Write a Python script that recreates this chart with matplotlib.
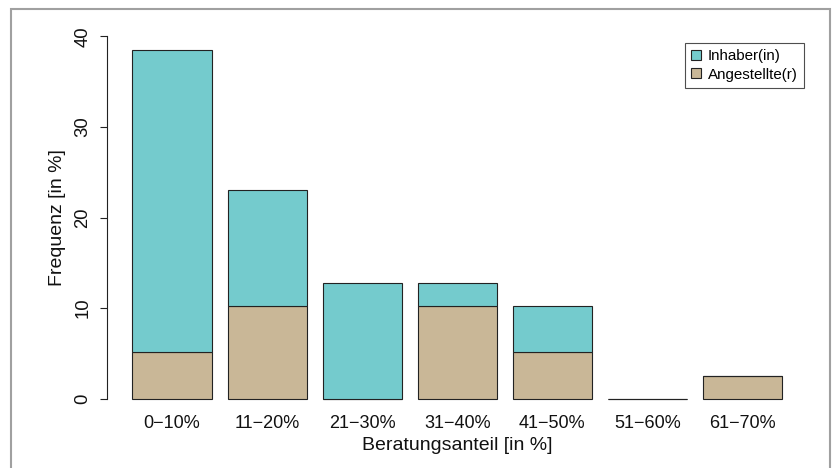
import matplotlib
matplotlib.use("Agg")
import matplotlib.pyplot as plt
from matplotlib.patches import Rectangle, Patch

plt.rcParams['font.family'] = ['Liberation Sans', 'DejaVu Sans']

categories = ["0\u221210%", "11\u221220%", "21\u221230%", "31\u221240%", "41\u221250%", "51\u221260%", "61\u221270%"]
angestellte = [5.13, 10.26, 0.0, 10.26, 5.13, 0.0, 2.56]
inhaber = [33.33, 12.82, 12.82, 2.56, 5.13, 0.0, 0.0]
yticks = [0, 10, 20, 30, 40]

col_inh = "#74CBCD"
col_ang = "#C9B797"

W, H = 835, 468
fig = plt.figure(figsize=(W / 100, H / 100), dpi=100)
fig.patch.set_facecolor("white")

left, right, bottom, top = 106.5, 808, 413.2, 21.8
ax = fig.add_axes([left / W, 1 - bottom / H, (right - left) / W, (bottom - top) / H])

x = [0.7 + 1.2 * i for i in range(len(categories))]
ax.bar(x, angestellte, width=1.0, color=col_ang, edgecolor="#222222", linewidth=0.8, zorder=2)
ax.bar(x, inhaber, width=1.0, bottom=angestellte, color=col_inh, edgecolor="#222222", linewidth=0.8, zorder=2)

ax.set_xlim(-0.128, 8.728)
ax.set_ylim(-1.6, 41.6)
for s in ["top", "right", "bottom"]:
    ax.spines[s].set_visible(False)
ax.spines["left"].set_bounds(0, 40)
ax.spines["left"].set_linewidth(0.8)
ax.spines["left"].set_color("#222222")

ax.set_yticks(yticks)
ax.set_yticklabels([str(v) for v in yticks], rotation=90, va="center", fontsize=13.3)
ax.tick_params(axis="y", length=5, width=0.8, pad=6, colors="#222222", labelcolor="#111111")
ax.set_xticks(x)
ax.set_xticklabels(categories, fontsize=13, color="#111111")
ax.tick_params(axis="x", length=0, pad=1.5)

fig.text(457 / W, 1 - 445 / H, "Beratungsanteil [in %]", ha="center", va="center", fontsize=14, color="#111111")
fig.text(57 / W, 1 - 217.5 / H, "Frequenz [in %]", ha="center", va="center", rotation=90, fontsize=14, color="#111111")

handles = [Patch(facecolor=col_inh, edgecolor="#222222", linewidth=0.8, label="Inhaber(in)"),
           Patch(facecolor=col_ang, edgecolor="#222222", linewidth=0.8, label="Angestellte(r)")]
leg = ax.legend(handles=handles, loc="upper right", bbox_to_anchor=((804 - left) / (right - left), (bottom - 43) / (bottom - top)),
                fontsize=10.9, frameon=True, fancybox=False, handlelength=0.65, handleheight=0.65,
                handletextpad=0.5, borderpad=0.4, labelspacing=0.3, borderaxespad=0)
leg.get_frame().set_edgecolor("#222222")
leg.get_frame().set_linewidth(0.8)

fig.patches.append(Rectangle((11 / W, -0.05), (830 - 11) / W, 1.05 - 9 / H, transform=fig.transFigure,
                             fill=False, edgecolor="#a0a0a0", linewidth=1.5))

fig.savefig("out.png", dpi=100)
